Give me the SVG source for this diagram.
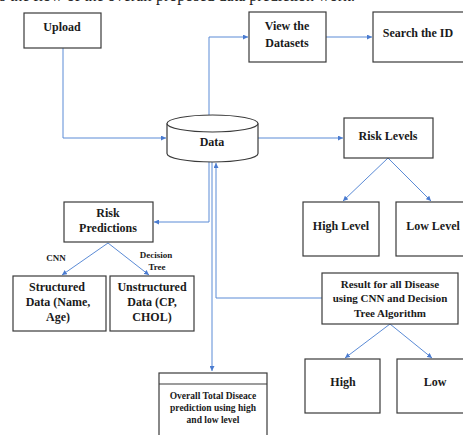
<svg xmlns="http://www.w3.org/2000/svg" width="463" height="435" viewBox="0 0 463 435">
<style>
.box{fill:#fff;stroke:#3a3a3a;stroke-width:1.2}
.t{font-family:"Liberation Serif","Times New Roman",serif;font-weight:bold;font-size:12px;fill:#1a1a1a;text-anchor:middle}
.s{font-size:9px}
.m{font-size:11px}
.o{font-size:9.5px}
.c{fill:none;stroke:#5b8bd6;stroke-width:1}
</style>
<defs>
<marker id="ah" viewBox="0 0 6 6" refX="6" refY="3" markerWidth="5" markerHeight="5" orient="auto" markerUnits="userSpaceOnUse">
<path d="M0,0 L6,3 L0,6 z" fill="#4a7bd0"/>
</marker>
</defs>
<rect width="463" height="435" fill="#fff"/>
<text x="355" y="0.5" text-anchor="end" font-family="'Liberation Serif','Times New Roman',serif" font-size="16" fill="#1a1a1a">The figure shows the flow of the overall proposed data prediction work.</text>

<g id="connectors">
<path class="c" d="M63,48 V138 H166" marker-end="url(#ah)"/>
<path class="c" d="M209,115 V37 H248" marker-end="url(#ah)"/>
<path class="c" d="M326,37 H372" marker-end="url(#ah)"/>
<path class="c" d="M258,138 H343" marker-end="url(#ah)"/>
<path class="c" d="M388,158 L343,201" marker-end="url(#ah)"/>
<path class="c" d="M388,158 L431,201" marker-end="url(#ah)"/>
<path class="c" d="M209,162 V222 H154" marker-end="url(#ah)"/>
<path class="c" d="M212,162 V371" marker-end="url(#ah)"/>
<path class="c" d="M322,298 H216 V163" marker-end="url(#ah)"/>
<path class="c" d="M108,243 L62,275" marker-end="url(#ah)"/>
<path class="c" d="M108,243 L149,275" marker-end="url(#ah)"/>
<path class="c" d="M390,324 L345,358" marker-end="url(#ah)"/>
<path class="c" d="M390,324 L432,358" marker-end="url(#ah)"/>
<text class="t s" x="56" y="261">CNN</text>
<text class="t s" x="156" y="258">Decision</text>
<text class="t s" x="157" y="270">Tree</text>
</g>

<g id="upload">
<rect class="box" x="24" y="13" width="77" height="35"/>
<text class="t" x="62" y="31">Upload</text>
</g>

<g id="view">
<rect class="box" x="249" y="12" width="77" height="50"/>
<text class="t" x="287" y="30">View the</text>
<text class="t" x="287" y="47">Datasets</text>
</g>

<g id="search">
<rect class="box" x="373" y="12" width="95" height="50"/>
<text class="t" x="418" y="37">Search the ID</text>
</g>

<g id="data">
<path class="box" d="M167,123.5 V153.5 A45.5,8.5 0 0 0 258,153.5 V123.5"/>
<ellipse class="box" cx="212.5" cy="123.5" rx="45.5" ry="8.5"/>
<text class="t" x="212" y="146">Data</text>
</g>

<g id="risklevels">
<rect class="box" x="344" y="118" width="89" height="40"/>
<text class="t" x="388" y="140">Risk Levels</text>
</g>

<g id="highlevel">
<rect class="box" x="303" y="202" width="76" height="54"/>
<text class="t" x="341" y="230">High Level</text>
</g>

<g id="lowlevel">
<rect class="box" x="396" y="202" width="72" height="54"/>
<text class="t" x="433" y="230">Low Level</text>
</g>

<g id="riskpred">
<rect class="box" x="64" y="202" width="89" height="40"/>
<text class="t" x="108" y="217">Risk</text>
<text class="t" x="108" y="232">Predictions</text>
</g>

<g id="structured">
<rect class="box" x="13" y="276" width="93" height="55"/>
<text class="t" x="57" y="291">Structured</text>
<text class="t" x="58" y="306">Data (Name,</text>
<text class="t" x="58" y="321">Age)</text>
</g>

<g id="unstructured">
<rect class="box" x="110" y="276" width="84" height="55"/>
<text class="t" x="152" y="291">Unstructured</text>
<text class="t" x="152" y="306">Data (CP,</text>
<text class="t" x="152" y="321">CHOL)</text>
</g>

<g id="result">
<rect class="box" x="322" y="273" width="136" height="51"/>
<text class="t m" x="390" y="288">Result for all Disease</text>
<text class="t m" x="390" y="302">using CNN and Decision</text>
<text class="t m" x="390" y="317">Tree Algorithm</text>
</g>

<g id="high">
<rect class="box" x="305" y="359" width="75" height="54"/>
<text class="t" x="343" y="386">High</text>
</g>

<g id="low">
<rect class="box" x="397" y="359" width="70" height="54"/>
<text class="t" x="435" y="386">Low</text>
</g>

<g id="overall">
<rect class="box" x="159" y="373" width="108" height="70"/>
<line class="box" x1="159" y1="384" x2="267" y2="384"/>
<text class="t o" x="213" y="399">Overall Total Diseace</text>
<text class="t o" x="213" y="411">prediction using high</text>
<text class="t o" x="213" y="423">and low level</text>
</g>
</svg>
